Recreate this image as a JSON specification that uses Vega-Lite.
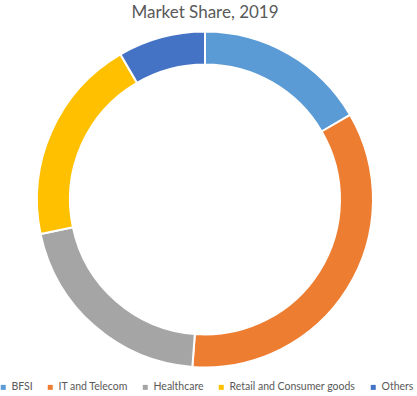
{
  "$schema": "https://vega.github.io/schema/vega-lite/v6.json",
  "width": 410,
  "height": 337,
  "autosize": "none",
  "padding": {"top": 31, "left": 0, "right": 7, "bottom": 28},
  "background": "white",
  "title": {
    "text": "Market Share, 2019",
    "font": "Lato",
    "fontSize": 17,
    "fontWeight": "normal",
    "color": "#595959",
    "anchor": "middle",
    "offset": 6
  },
  "data": {
    "values": [
      {"segment": "BFSI", "share": 16.6, "order": 1},
      {"segment": "IT and Telecom", "share": 34.6, "order": 2},
      {"segment": "Healthcare", "share": 20.5, "order": 3},
      {"segment": "Retail and Consumer goods", "share": 19.9, "order": 4},
      {"segment": "Others", "share": 8.4, "order": 5}
    ]
  },
  "mark": {"type": "arc", "innerRadius": 135, "outerRadius": 168, "stroke": "white", "strokeWidth": 2},
  "encoding": {
    "theta": {"field": "share", "type": "quantitative", "stack": true},
    "order": {"field": "order", "type": "quantitative"},
    "color": {
      "field": "segment",
      "type": "nominal",
      "sort": ["BFSI", "IT and Telecom", "Healthcare", "Retail and Consumer goods", "Others"],
      "scale": {
        "domain": ["BFSI", "IT and Telecom", "Healthcare", "Retail and Consumer goods", "Others"],
        "range": ["#5B9BD5", "#ED7D31", "#A5A5A5", "#FFC000", "#4472C4"]
      },
      "legend": {
        "title": null,
        "orient": "none",
        "legendX": -2,
        "legendY": 351,
        "padding": 0,
        "direction": "horizontal",
        "symbolType": "square",
        "symbolSize": 25,
        "symbolStrokeWidth": 0,
        "labelFont": "Lato",
        "labelFontSize": 10.5,
        "labelColor": "#595959",
        "labelOffset": 3,
        "columnPadding": 12
      }
    }
  }
}
